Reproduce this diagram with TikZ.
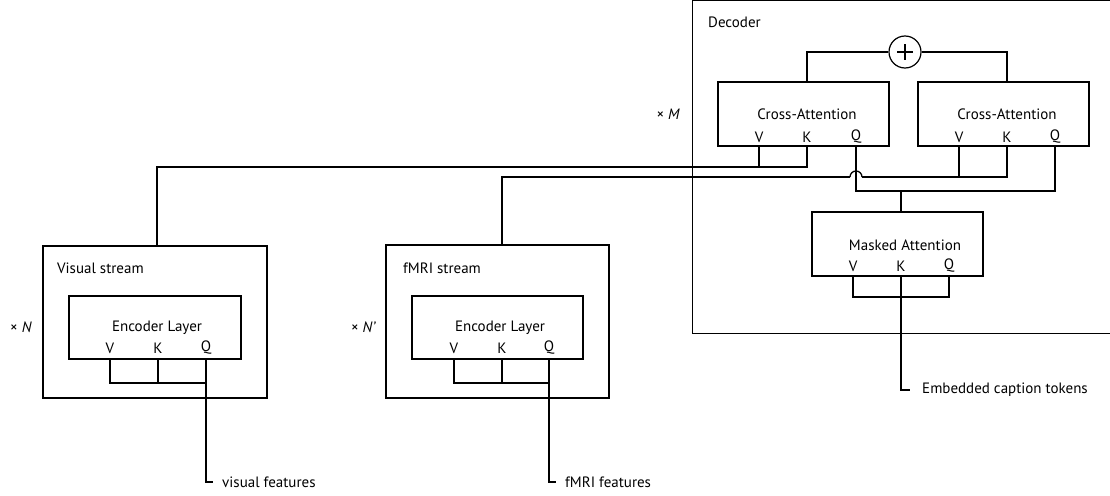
\documentclass[tikz,border=0pt]{standalone}
\usepackage{fontspec}
\setmainfont{PT Sans}
\begin{document}
\begin{tikzpicture}[x=1pt,y=-1pt,
  box/.style={draw, rectangle, inner sep=0pt, line width=1.3pt},
  lbl/.style={font=\fontsize{15}{17}\selectfont, inner sep=0pt},
  wire/.style={draw, line width=1.3pt}]
\useasboundingbox (0,0) rectangle (1110,495);

% ---------- Decoder ----------
\node[box, anchor=north west, minimum width=440pt, minimum height=333pt] (dec) at (692,0) {};
\node[lbl, anchor=west] (dectxt) at (708,22) {Decoder};
\node[lbl, anchor=east] (xM) at (680,114) {× \textit{M}};

\node[draw, circle, line width=1.2pt, minimum size=32pt, inner sep=0pt] (plus) at (905,52) {};
\draw[line width=1.1pt] ([xshift=-8pt]plus.center) -- ([xshift=8pt]plus.center)
                      ([yshift=-8pt]plus.center) -- ([yshift=8pt]plus.center);

\node[box, minimum width=171pt, minimum height=64pt] (ca1) at (803.5,114) {};
\node[box, minimum width=171pt, minimum height=64pt] (ca2) at (1003.5,114) {};
\node[lbl] (ca1t) at (807,114) {Cross-Attention};
\node[lbl] (ca2t) at (1007,114) {Cross-Attention};
\node[lbl] (ca1v) at (759,137) {V};
\node[lbl] (ca1k) at (807,137) {K};
\node[lbl] (ca1q) at (856,137) {Q};
\node[lbl] (ca2v) at (959,137) {V};
\node[lbl] (ca2k) at (1007,137) {K};
\node[lbl] (ca2q) at (1055,137) {Q};
\coordinate (caVa) at (759,146);
\coordinate (caKa) at (807,146);
\coordinate (caQa) at (856,146);
\coordinate (caVb) at (959,146);
\coordinate (caKb) at (1007,146);
\coordinate (caQb) at (1055,146);
\coordinate (caTa) at (807,82);
\coordinate (caTb) at (1007,82);

\draw[wire] (caTa) |- (plus.west);
\draw[wire] (caTb) |- (plus.east);

\node[box, minimum width=171pt, minimum height=64pt] (ma) at (897.5,244) {};
\node[lbl] (mat) at (905,245) {Masked Attention};
\node[lbl] (mav) at (853,266) {V};
\node[lbl] (mak) at (901,266) {K};
\node[lbl] (maq) at (949,266) {Q};
\coordinate (maV) at (853,276);
\coordinate (maK) at (901,276);
\coordinate (maQ) at (949,276);
\coordinate (maT) at (901,212);

% ---------- Visual stream ----------
\node[box, minimum width=224pt, minimum height=152pt] (vis) at (155,322) {};
\node[lbl, anchor=west] (vist) at (57,268) {Visual stream};
\node[lbl, anchor=east] (xN) at (32,327) {× \textit{N}};
\node[box, minimum width=172pt, minimum height=63pt] (ev) at (155,327.5) {};
\node[lbl] (evt) at (157,328) {Encoder Layer};
\node[lbl] (evv) at (110,348) {V};
\node[lbl] (evk) at (158,348) {K};
\node[lbl] (evq) at (206,348) {Q};
\coordinate (evV) at (110,359);
\coordinate (evK) at (158,359);
\coordinate (evQ) at (206,359);
\coordinate (visTop) at (157,246);
\node[lbl, anchor=west] (vf) at (222,482) {visual features};

% ---------- fMRI stream ----------
\node[box, minimum width=223pt, minimum height=153pt] (fm) at (497.5,321.5) {};
\node[lbl, anchor=west] (fmt) at (403,268) {fMRI stream};
\node[lbl, anchor=east] (xNp) at (376,327) {× \textit{N’}};
\node[box, minimum width=171pt, minimum height=63pt] (ef) at (497.5,327.5) {};
\node[lbl] (eft) at (500,328) {Encoder Layer};
\node[lbl] (efv) at (454,348) {V};
\node[lbl] (efk) at (502,348) {K};
\node[lbl] (efq) at (549,348) {Q};
\coordinate (efV) at (454,359);
\coordinate (efK) at (502,359);
\coordinate (efQ) at (549,359);
\coordinate (fmTop) at (502,245);
\node[lbl, anchor=west] (ff) at (565,482) {fMRI features};

\node[lbl, anchor=west] (emb) at (922,390) {Embedded caption tokens};

% ---------- wires ----------
% visual -> left cross-attention V,K
\coordinate (j1) at (157,167);
\draw[wire] (visTop) -- (j1) -| (caKa);
\draw[wire] (caVa) -- (caVa |- j1);
% fMRI -> right cross-attention V,K (with hop over the Q line)
\coordinate (j2) at (502,177);
\coordinate (hopL) at (850,177);
\coordinate (hopR) at (862,177);
\draw[wire] (fmTop) -- (j2) -- (hopL);
\draw[wire] (hopL) arc[start angle=180, end angle=0, radius=6pt];
\draw[wire] (hopR) -| (caKb);
\draw[wire] (caVb) -- (caVb |- j2);
% Q lines -> masked attention
\coordinate (j3) at (856,191);
\draw[wire] (caQa) -- (j3) -| (caQb);
\draw[wire] (maT) -- (maT |- j3);
% masked attention inputs
\coordinate (j4) at (853,297);
\draw[wire] (maV) -- (j4) -| (maQ);
\draw[wire] (maK) |- ([xshift=-12pt]emb.west);
% visual encoder inputs
\coordinate (j5) at (110,383);
\draw[wire] (evV) -- (j5) -| (evQ);
\draw[wire] (evK) -- (evK |- j5);
\draw[wire] (evQ) |- ([xshift=-9pt]vf.west);
% fMRI encoder inputs
\coordinate (j6) at (454,383);
\draw[wire] (efV) -- (j6) -| (efQ);
\draw[wire] (efK) -- (efK |- j6);
\draw[wire] (efQ) |- ([xshift=-9pt]ff.west);
\end{tikzpicture}
\end{document}
